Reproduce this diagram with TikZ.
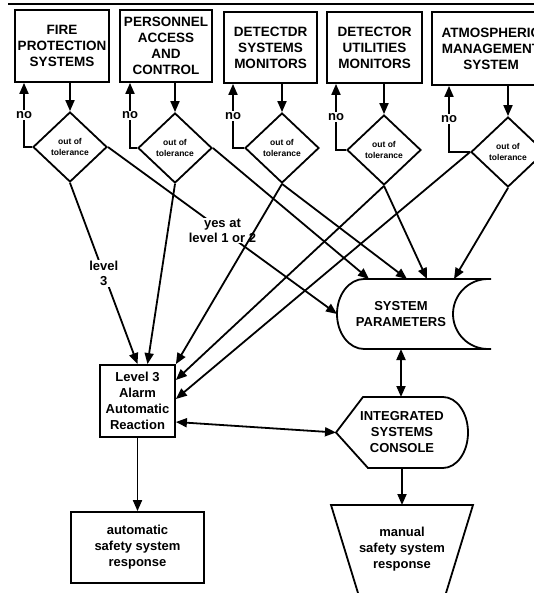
\documentclass[tikz,border=0pt]{standalone}
\usepackage{fontspec}
\setmainfont{Liberation Sans}
\usetikzlibrary{arrows.meta,shapes.geometric}

\begin{document}
\begin{tikzpicture}[
    x=1pt,y=-1pt,
    sysbox/.style={rectangle,draw,line width=1.8pt,align=center,inner sep=1pt,
      font=\fontsize{13.5}{16}\selectfont\bfseries},
    tolcheck/.style={diamond,draw,line width=1.8pt,minimum width=74pt,minimum height=70pt,
      inner sep=0pt,align=center,font=\fontsize{8.5}{11}\selectfont\bfseries},
    plain/.style={align=center,inner sep=0pt,outer sep=0pt,font=\fontsize{13}{16}\selectfont\bfseries},
    lbl/.style={fill=white,inner sep=1pt,align=center,font=\fontsize{13}{15}\selectfont\bfseries},
    outline/.style={line width=1.8pt},
    arrow/.style={-{Triangle[length=11pt,width=9pt]},line width=1.8pt},
    dbl/.style={{Triangle[length=11pt,width=9pt]}-{Triangle[length=11pt,width=9pt]},line width=1.8pt}
  ]
    \useasboundingbox (0,0) rectangle (534,593);
    \clip (0,0) rectangle (534,593);
    \draw[outline] (8,4) -- (534,4);

    \node[sysbox,minimum width=94pt,minimum height=72pt] (fire) at (62,46) {FIRE\\PROTECTION\\SYSTEMS};
    \node[sysbox,minimum width=92pt,minimum height=72pt] (access) at (166,46) {PERSONNEL\\ACCESS\\AND\\CONTROL};
    \node[sysbox,minimum width=93pt,minimum height=71pt] (detsys) at (270.5,47.5) {DETECTDR\\SYSTEMS\\MONITORS};
    \node[sysbox,minimum width=95pt,minimum height=71pt] (detutil) at (374.5,47.5) {DETECTOR\\UTILITIES\\MONITORS};
    \node[sysbox,minimum width=118pt,minimum height=73pt] (atmos) at (491,48.5) {ATMOSPHERIC\\MANAGEMENT\\SYSTEM};

    \node[tolcheck] (qfire) at (70,147) {out of\\tolerance};
    \node[tolcheck] (qaccess) at (175,148) {out of\\tolerance};
    \node[tolcheck] (qdetsys) at (282,148) {out of\\tolerance};
    \node[tolcheck] (qdetutil) at (384,150) {out of\\tolerance};
    \node[tolcheck] (qatmos) at (508,152) {out of\\tolerance};

    \node[sysbox,minimum width=75pt,minimum height=72pt,font=\fontsize{13}{16}\selectfont\bfseries] (alarm) at (137.5,401) {Level 3\\Alarm\\Automatic\\Reaction};
    \node[sysbox,minimum width=133pt,minimum height=71pt,font=\fontsize{13}{16}\selectfont\bfseries] (autoresp) at (137.5,547.5) {automatic\\safety system\\response};

    \node[plain,minimum width=128pt,minimum height=70pt] (sp) at (401,314) {SYSTEM\\PARAMETERS};
    \draw[outline] ([xshift=27pt]sp.north west) -- ([xshift=26pt]sp.north east)
      -- ([xshift=23pt]sp.north east)
      arc[start angle=90,end angle=270,x radius=35pt,y radius=35pt]
      -- ([xshift=26pt]sp.south east) -- ([xshift=27pt]sp.south west)
      arc[start angle=-90,end angle=-270,x radius=27pt,y radius=35pt] -- cycle;

    \node[plain,minimum width=132pt,minimum height=71pt] (isc) at (402,432.5) {INTEGRATED\\SYSTEMS\\CONSOLE};
    \draw[outline] (isc.west) -- ([xshift=27pt]isc.north west) -- ([xshift=-25pt]isc.north east)
      arc[start angle=90,end angle=-90,x radius=25pt,y radius=35.5pt]
      -- ([xshift=32pt]isc.south west) -- cycle;

    \node[plain,minimum width=142pt,minimum height=88pt] (manual) at (402,549) {manual\\safety system\\response};
    \draw[outline] ([xshift=27pt]manual.south west) -- (manual.north west)
      -- (manual.north east) -- ([xshift=-27pt]manual.south east);

    \foreach \b in {fire,access,detsys,detutil,atmos}
      \draw[arrow] (\b.south -| q\b.north) -- (q\b.north);
    \foreach \b/\s in {fire/-38,access/-36,detsys/-37.5,detutil/-38.5,atmos/-42}
      \draw[arrow] (q\b.west) -| node[lbl,pos=0.75] {no} ([xshift=\s pt]\b.south);

    \draw[arrow] (qfire.south) -- node[lbl] {level\\3} (alarm.north);
    \draw[arrow] (qfire.east) -- node[lbl] {yes at\\level 1 or 2} (sp.west);
    \draw[arrow] (qaccess.south) -- ([xshift=10pt]alarm.north);
    \draw[arrow] (qaccess.east) -- ([xshift=-32pt]sp.north);
    \draw[arrow] (qdetsys.south) -- (alarm.north east);
    \draw[arrow] (qdetsys.south) -- ([xshift=6pt]sp.north);
    \draw[arrow] (qdetutil.south) -- ([yshift=21pt]alarm.east);
    \draw[arrow] (qdetutil.south) -- ([xshift=26pt]sp.north);
    \draw[arrow] (qatmos.west) -- ([yshift=2pt]alarm.east);
    \draw[arrow] (qatmos.south) -- ([xshift=53pt]sp.north);

    \draw[dbl] (sp.south) -- (sp.south |- isc.north);
    \draw[dbl] ([yshift=-21pt]alarm.east) -- (isc.west);
    \draw[arrow] (isc.south) -- (isc.south |- manual.north);
    \draw[arrow] (alarm.south) -- (autoresp.north);
  \end{tikzpicture}
\end{document}
